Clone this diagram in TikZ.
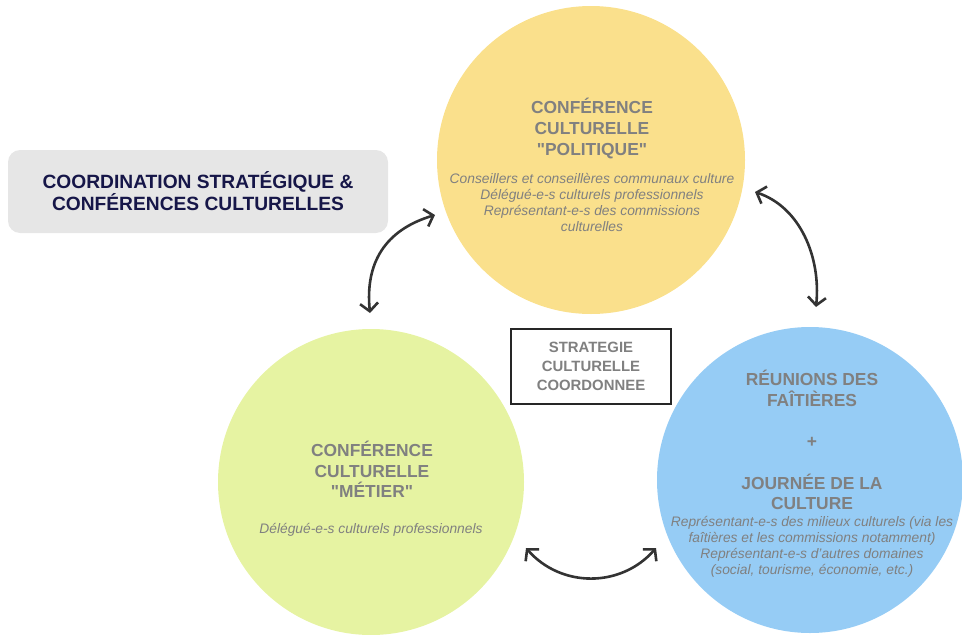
\documentclass[tikz,border=0pt]{standalone}
\usepackage{fontspec}
\setmainfont{Liberation Sans}
\usetikzlibrary{arrows.meta,positioning}
\definecolor{polyellow}{RGB}{250,224,140}
\definecolor{metgreen}{RGB}{230,243,162}
\definecolor{faitblue}{RGB}{150,204,245}
\definecolor{txtgrey}{RGB}{128,128,128}
\definecolor{navy}{RGB}{22,22,72}
\definecolor{boxgrey}{RGB}{230,230,230}
\definecolor{arrowgrey}{RGB}{51,51,51}
\begin{document}
\begin{tikzpicture}[x=1pt,y=-1pt,
    circ/.style={circle,inner sep=0pt,minimum size=#1},
    ttl/.style={align=center,text=txtgrey,font=\bfseries\fontsize{17.4}{20.7}\selectfont},
    desc/.style={align=center,text=txtgrey,font=\itshape\fontsize{13.8}{16}\selectfont},
    link/.style={draw=arrowgrey,line width=2.6pt,{Straight Barb[length=8pt,width=18pt]}-{Straight Barb[length=8pt,width=18pt]}}]
    \useasboundingbox (0,0) rectangle (962,635);
    \node[circ=308pt,fill=polyellow] (pol) at (591,160) {};
    \node[circ=306pt,fill=metgreen] (met) at (371,482) {};
    \node[circ=306pt,fill=faitblue] (fait) at (810,480) {};
    \node[ttl] (polT) at (592,128.5) {CONFÉRENCE\\CULTURELLE\\\textquotedbl POLITIQUE\textquotedbl};
    \node[desc] (polD) at (592,202) {Conseillers et conseillères communaux culture\\Délégué-e-s culturels professionnels\\Représentant-e-s des commissions\\culturelles};
    \node[ttl] (metT) at (372,469.5) {CONFÉRENCE\\CULTURELLE\\\textquotedbl MÉTIER\textquotedbl};
    \node[desc] (metD) at (371,530) {Délégué-e-s culturels professionnels};
    \node[ttl] (faitT) at (812,440) {RÉUNIONS DES\\FAÎTIÈRES\\[20.5pt]+\\[21pt]JOURNÉE DE LA\\CULTURE};
    \node[desc] (faitD) at (812,547) {Représentant-e-s des milieux culturels (via les\\faîtières et les commissions notamment)\\Représentant-e-s d'autres domaines\\(social, tourisme, économie, etc.)};
    \node[rounded corners=12pt,fill=boxgrey,minimum width=380pt,minimum height=83pt,align=center,text=navy,
        font=\bfseries\fontsize{19.2}{22}\selectfont] (coord) at (198,191.5) {COORDINATION STRATÉGIQUE \&\\CONFÉRENCES CULTURELLES};
    \node[draw=black!85,line width=2pt,fill=white,minimum width=160pt,minimum height=75pt,align=center,text=txtgrey,
        font=\bfseries\fontsize{14.9}{19}\selectfont] (strat) at (591,366) {STRATEGIE\\CULTURELLE\\COORDONNEE};
    \coordinate (polW) at (435,215);
    \coordinate (polE) at (755,192);
    \coordinate (metN) at (370,313);
    \coordinate (metE) at (526,548);
    \coordinate (faitN) at (816,307);
    \coordinate (faitW) at (656,548);
    \draw[link] (polW) .. controls +(-50,15) and +(-5,-50) .. (metN);
    \draw[link] (polE) .. controls +(45,15) and +(5,-50) .. (faitN);
    \draw[link] (metE) .. controls +(35,40) and +(-35,40) .. (faitW);
\end{tikzpicture}
\end{document}
